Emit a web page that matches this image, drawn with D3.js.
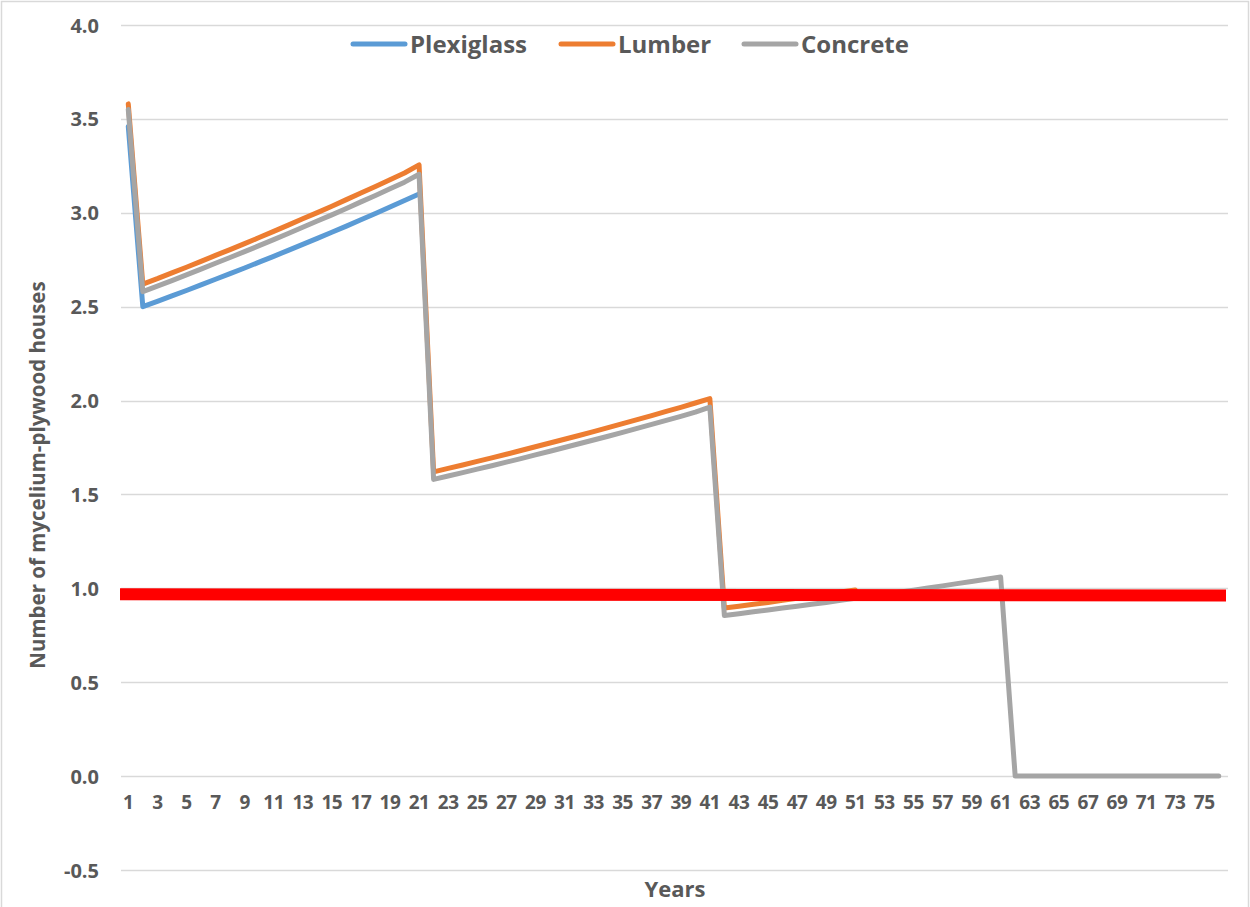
<!DOCTYPE html>
<html>
<head>
<meta charset="utf-8">
<script src="https://cdn.jsdelivr.net/npm/d3@7"></script>
<style>
  body { margin: 0; background: #fff; }
  svg text { font-family: "Open Sans", sans-serif; font-weight: bold; fill: #595959; }
</style>
</head>
<body>
<script>
// data
var years = d3.range(1, 77);
var yTicks = [-0.5, 0, 0.5, 1, 1.5, 2, 2.5, 3, 3.5, 4];

var plexiglass = [3.46,
   2.500, 2.528, 2.557, 2.586, 2.616, 2.646, 2.676, 2.706, 2.737, 2.768,
   2.800, 2.832, 2.864, 2.896, 2.929, 2.963, 2.996, 3.031, 3.065, 3.100];

var lumber = [3.58,
   2.620, 2.649, 2.680, 2.710, 2.741, 2.773, 2.804, 2.836, 2.868, 2.901,
   2.934, 2.968, 3.001, 3.035, 3.070, 3.105, 3.140, 3.176, 3.212, 3.255,
   1.620, 1.639, 1.657, 1.676, 1.695, 1.714, 1.734, 1.754, 1.774, 1.794,
   1.814, 1.835, 1.856, 1.877, 1.898, 1.920, 1.942, 1.964, 1.987, 2.010,
   0.895, 0.905, 0.915, 0.925, 0.936, 0.947, 0.958, 0.969, 0.980, 0.991];

var concrete = [3.55,
   2.580, 2.609, 2.639, 2.669, 2.700, 2.731, 2.762, 2.793, 2.825, 2.857,
   2.890, 2.923, 2.956, 2.989, 3.023, 3.058, 3.092, 3.128, 3.163, 3.205,
   1.580, 1.598, 1.616, 1.635, 1.653, 1.672, 1.691, 1.711, 1.730, 1.750,
   1.770, 1.790, 1.810, 1.831, 1.852, 1.873, 1.894, 1.916, 1.938, 1.965,
   0.855, 0.865, 0.875, 0.885, 0.895, 0.905, 0.915, 0.925, 0.936, 0.947,
   0.957, 0.968, 0.979, 0.990, 1.002, 1.013, 1.025, 1.036, 1.048, 1.060,
   0, 0, 0, 0, 0, 0, 0, 0, 0, 0, 0, 0, 0, 0, 0];

// red threshold bar, value at left and right edge of the plot
var threshold = [0.968, 0.962];

var series = [
   {name: 'Plexiglass', values: plexiglass, color: '#5B9BD5'},
   {name: 'Lumber', values: lumber, color: '#ED7D31'},
   {name: 'Concrete', values: concrete, color: '#A5A5A5'}
];

var width = 1250, height = 907;
var plot = {left: 121, right: 1226, top: 25, bottom: 870};

var svg = d3.select('body').append('svg')
   .attr('width', width)
   .attr('height', height);

// chart border
svg.append('rect')
   .attr('x', 1.5).attr('y', 1.5)
   .attr('width', width - 3).attr('height', height + 10)
   .attr('fill', '#fff')
   .attr('stroke', '#D9D9D9')
   .attr('stroke-width', 1.5);

var x = d3.scaleBand()
   .domain(years)
   .range([plot.left, plot.right])
   .padding(0);

var y = d3.scaleLinear()
   .domain([-0.5, 4])
   .range([plot.bottom, plot.top]);

function cx(year) { return x(year) + x.bandwidth() / 2; }

// gridlines
svg.append('g')
   .selectAll('line')
   .data(yTicks)
   .enter().append('line')
   .attr('x1', plot.left)
   .attr('x2', plot.right + 2)
   .attr('y1', function(d) { return Math.round(y(d)) + 0.5; })
   .attr('y2', function(d) { return Math.round(y(d)) + 0.5; })
   .attr('stroke', '#D9D9D9')
   .attr('stroke-width', 1.5);

// y axis labels (plain hyphen for the negative one)
var yAxis = svg.append('g')
   .attr('transform', 'translate(' + (plot.left - 22) + ',0)')
   .call(d3.axisLeft(y).tickValues(yTicks)
      .tickFormat(function(d) { return d.toFixed(1); })
      .tickSize(0));
yAxis.select('.domain').remove();
yAxis.selectAll('text')
   .attr('x', 0)
   .attr('dy', '0.35em')
   .style('font-size', '20px')
   .style('font-family', '"Open Sans", sans-serif');

// x axis labels, every second year
var xAxis = svg.append('g')
   .attr('transform', 'translate(0,' + 795 + ')')
   .call(d3.axisBottom(x).tickValues(years.filter(function(d) { return d % 2 === 1; })).tickSize(0));
xAxis.select('.domain').remove();
xAxis.selectAll('text')
   .attr('y', 0)
   .attr('dy', '0.71em')
   .style('font-size', '19px')
   .style('letter-spacing', '-0.5px')
   .style('font-family', '"Open Sans", sans-serif');

// series lines
var line = d3.line()
   .x(function(d, i) { return cx(years[i]); })
   .y(function(d) { return y(d); });

svg.append('g')
   .selectAll('path')
   .data(series)
   .enter().append('path')
   .attr('d', function(d) { return line(d.values); })
   .attr('fill', 'none')
   .attr('stroke', function(d) { return d.color; })
   .attr('stroke-width', 5)
   .attr('stroke-linejoin', 'round')
   .attr('stroke-linecap', 'round');

// red threshold bar
svg.append('line')
   .attr('x1', plot.left - 1)
   .attr('x2', plot.right)
   .attr('y1', y(threshold[0]))
   .attr('y2', y(threshold[1]))
   .attr('stroke', '#FF0000')
   .attr('stroke-width', 12);

// legend
var legendX = [351, 559, 742];
var legend = svg.append('g')
   .selectAll('g')
   .data(series)
   .enter().append('g')
   .attr('transform', function(d, i) { return 'translate(' + legendX[i] + ',44)'; });

legend.append('line')
   .attr('x1', 2).attr('x2', 54)
   .attr('stroke', function(d) { return d.color; })
   .attr('stroke-width', 5)
   .attr('stroke-linecap', 'round');

legend.append('text')
   .attr('x', 59)
   .attr('dy', '0.36em')
   .style('font-size', '24px')
   .text(function(d) { return d.name; });

// axis titles
svg.append('text')
   .attr('transform', 'translate(45,475) rotate(-90)')
   .attr('text-anchor', 'middle')
   .style('font-size', '20.5px')
   .text('Number of mycelium-plywood houses');

svg.append('text')
   .attr('x', 675)
   .attr('y', 897)
   .attr('text-anchor', 'middle')
   .style('font-size', '22px')
   .text('Years');
</script>
</body>
</html>
